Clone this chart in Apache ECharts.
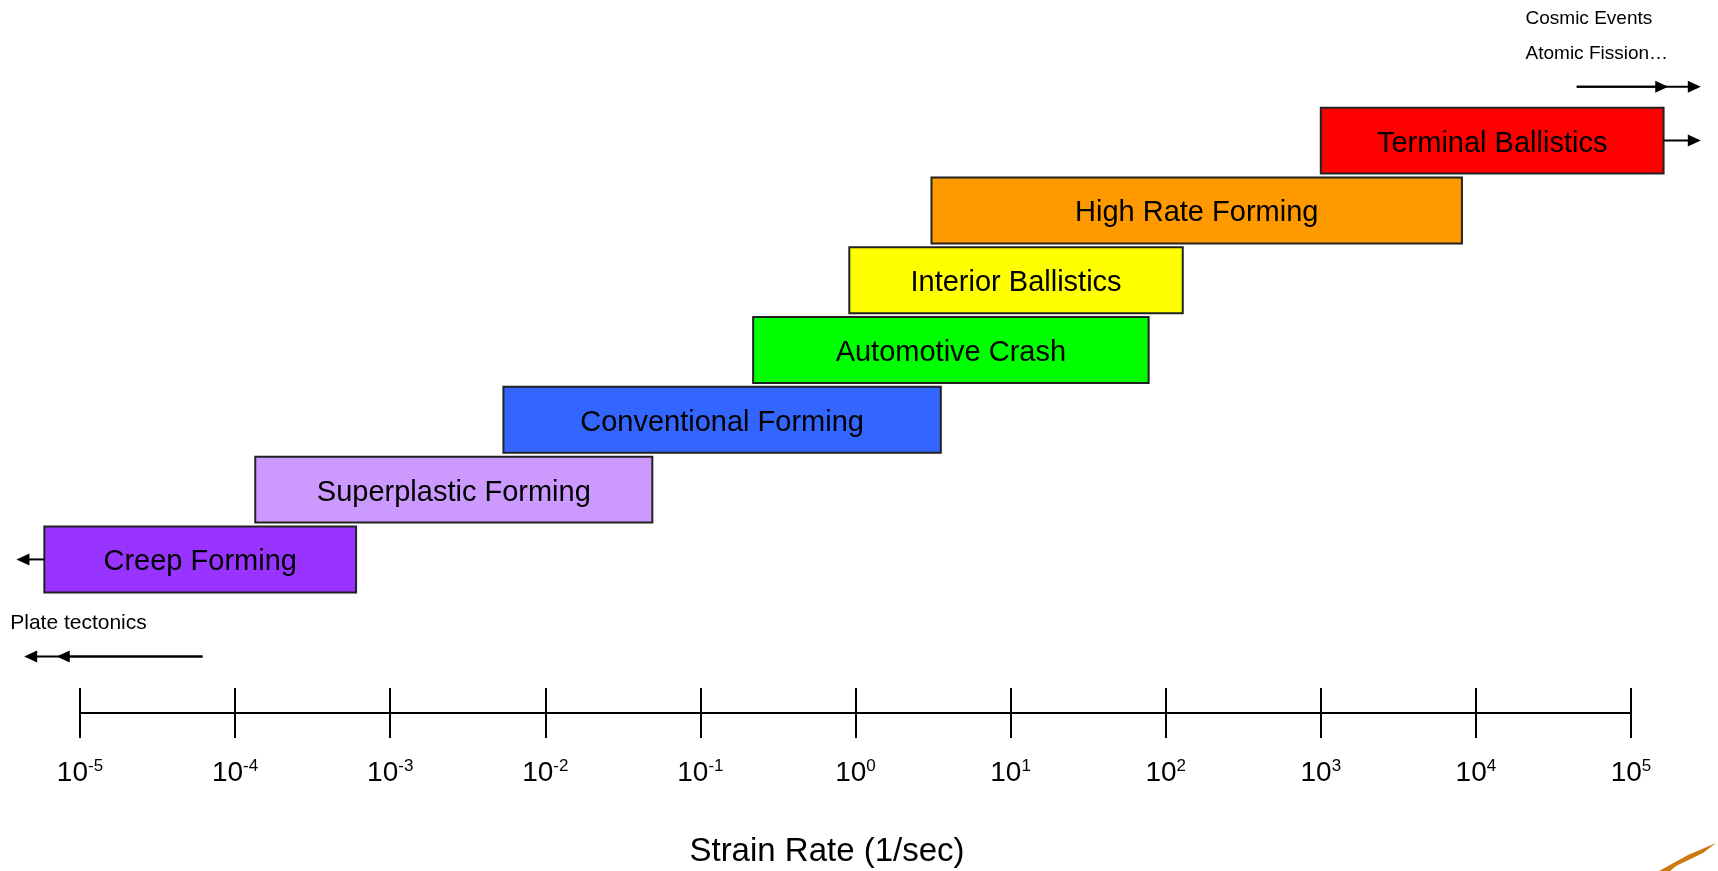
<!DOCTYPE html>
<html>
<head>
<meta charset="utf-8">
<title>Strain Rate</title>
<script src="https://cdn.jsdelivr.net/npm/echarts@6/dist/echarts.min.js"></script>
<style>
  html, body { margin: 0; padding: 0; background: #fff; }
  #main { width: 1718px; height: 871px; }
</style>
</head>
<body>
<div id="main"></div>
<script>
// processes, bottom row first
var processNames = ["Creep Forming", "Superplastic Forming", "Conventional Forming", "Automotive Crash",
  "Interior Ballistics", "High Rate Forming", "Terminal Ballistics"];
// log10 of strain rate (1/sec) at both ends of each box
var logRateLow = [-5.23, -3.87, -2.27, -0.66, -0.04, 0.49, 3.0];
var logRateHigh = [-3.22, -1.31, 0.55, 1.89, 2.11, 3.91, 5.21];
var boxColors = ["#9933FF", "#CC99FF", "#3366FF", "#00FF00", "#FFFF00", "#FF9900", "#FF0000"];

var tickExponents = ["-5", "-4", "-3", "-2", "-1", "0", "1", "2", "3", "4", "5"];

// arrows (from, to in log rate; row)
var arrowFrom = [-5.23, 5.21, 4.65, 4.65, -4.21, -4.21];
var arrowTo = [-5.41, 5.45, 5.24, 5.45, -5.15, -5.36];
var arrowRow = [0, 6, 6.77, 6.77, -1.39, -1.39];

// side notes
var noteTexts = ["Cosmic Events", "Atomic Fission…", "Plate tectonics"];
var noteX = [4.32, 4.32, -5.45];
var noteRow = [7.74, 7.24, -0.92];

var FONT = "'Liberation Sans', Arial, sans-serif";

var dom = document.getElementById("main");
var myChart = echarts.init(dom, null, { renderer: "canvas" });

var boxData = [];
for (var i = 0; i < processNames.length; i++) {
  boxData.push([logRateLow[i], logRateHigh[i], i, i]);
}
var arrowData = [];
for (var j = 0; j < arrowFrom.length; j++) {
  arrowData.push([arrowFrom[j], arrowTo[j], arrowRow[j]]);
}
var noteData = [];
for (var k = 0; k < noteTexts.length; k++) {
  noteData.push([noteX[k], noteRow[k], k]);
}

var tickStyle = { color: "#000", width: 2 };

var option = {
  animation: false,
  grid: { left: 80, right: 87, top: 1, bottom: 158 },
  xAxis: [
    {
      type: "value",
      min: -5,
      max: 5,
      interval: 1,
      position: "bottom",
      splitLine: { show: false },
      axisLine: { show: true, onZero: false, lineStyle: tickStyle },
      axisTick: { show: true, inside: false, length: 25, lineStyle: tickStyle },
      axisLabel: {
        margin: 45,
        formatter: function (v) {
          return "{b|10}{s|" + tickExponents[Math.round(v) + 5] + "}";
        },
        rich: {
          b: { fontSize: 28, lineHeight: 30, fontFamily: FONT, color: "#000" },
          s: { fontSize: 17, lineHeight: 10, verticalAlign: "top", fontFamily: FONT, color: "#000" }
        }
      }
    },
    {
      // second copy only for the upward half of each tick
      type: "value",
      min: -5,
      max: 5,
      interval: 1,
      position: "bottom",
      splitLine: { show: false },
      axisLine: { show: false, onZero: false },
      axisTick: { show: true, inside: true, length: 25, lineStyle: tickStyle },
      axisLabel: { show: false }
    }
  ],
  yAxis: { type: "value", min: -2.2, max: 8, show: false },
  graphic: [
    {
      type: "text",
      x: 827,
      y: 852,
      style: {
        text: "Strain Rate (1/sec)",
        fontSize: 33,
        fontFamily: FONT,
        fill: "#000",
        align: "center",
        verticalAlign: "middle"
      }
    },
    {
      type: "polygon",
      shape: { points: [[1659, 871], [1688, 855], [1716, 843], [1703, 853], [1676, 866], [1670, 871]] },
      style: { fill: "#CC7A10" }
    }
  ],
  series: [
    {
      type: "custom",
      xAxisIndex: 0,
      clip: false,
      data: boxData,
      renderItem: function (params, api) {
        var idx = api.value(3);
        var lo = api.coord([api.value(0), api.value(2)]);
        var hi = api.coord([api.value(1), api.value(2)]);
        var h = api.size([0, 0.945])[1];
        return {
          type: "group",
          children: [
            {
              type: "rect",
              shape: { x: lo[0], y: lo[1] - h / 2, width: hi[0] - lo[0], height: h },
              style: { fill: boxColors[idx], stroke: "#222", lineWidth: 2 }
            },
            {
              type: "text",
              x: (lo[0] + hi[0]) / 2,
              y: lo[1] + 3,
              style: {
                text: processNames[idx],
                fontSize: 29,
                fontFamily: FONT,
                fill: "#000",
                align: "center",
                verticalAlign: "middle"
              }
            }
          ]
        };
      }
    },
    {
      type: "custom",
      xAxisIndex: 0,
      clip: false,
      data: arrowData,
      renderItem: function (params, api) {
        var a = api.coord([api.value(0), api.value(2)]);
        var b = api.coord([api.value(1), api.value(2)]);
        var dir = b[0] > a[0] ? 1 : -1;
        return {
          type: "group",
          children: [
            {
              type: "line",
              shape: { x1: a[0], y1: a[1], x2: b[0] - dir * 4, y2: b[1] },
              style: { stroke: "#000", lineWidth: 2 }
            },
            {
              type: "polygon",
              shape: { points: [[b[0], b[1]], [b[0] - dir * 13, b[1] - 6], [b[0] - dir * 13, b[1] + 6]] },
              style: { fill: "#000" }
            }
          ]
        };
      }
    },
    {
      type: "custom",
      xAxisIndex: 0,
      clip: false,
      data: noteData,
      renderItem: function (params, api) {
        var idx = api.value(2);
        var p = api.coord([api.value(0), api.value(1)]);
        return {
          type: "text",
          x: p[0],
          y: p[1],
          style: {
            text: noteTexts[idx],
            fontSize: idx === 2 ? 21 : 19,
            fontFamily: FONT,
            fill: "#000",
            align: "left",
            verticalAlign: "middle"
          }
        };
      }
    }
  ]
};

if (option && typeof option === "object") {
  myChart.setOption(option);
}

window.addEventListener("resize", myChart.resize);
</script>
</body>
</html>
